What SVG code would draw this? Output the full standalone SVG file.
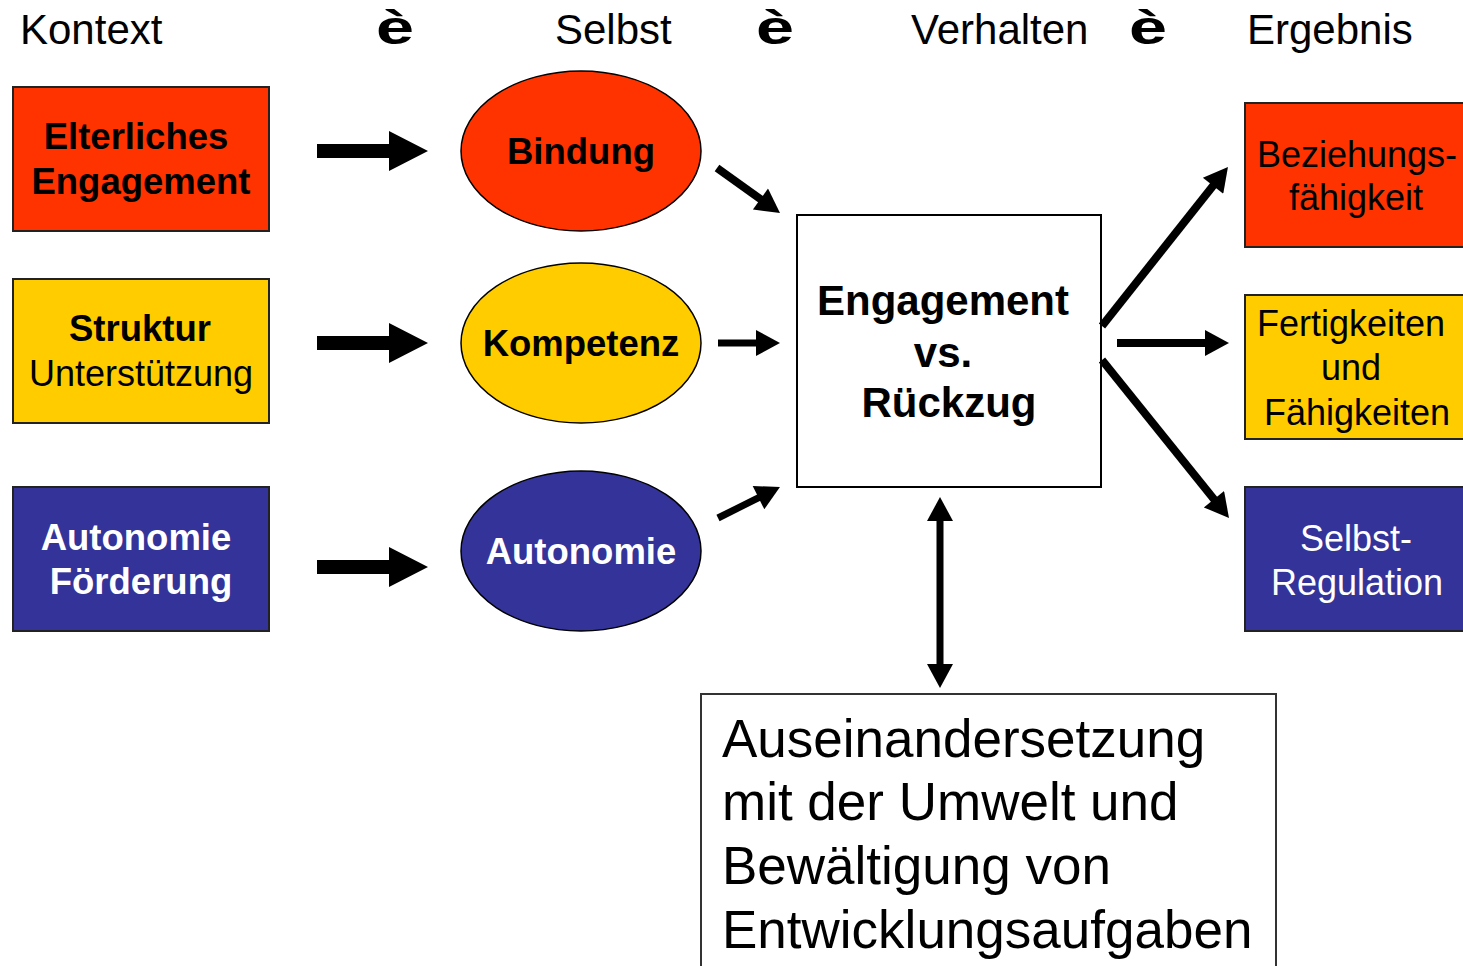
<svg xmlns="http://www.w3.org/2000/svg" width="1463" height="966" viewBox="0 0 1463 966">
<style>
text{font-family:"Liberation Sans",Arial,sans-serif;}
.hd{font-size:42px;fill:#000;}
.ar{font-size:48px;font-weight:bold;fill:#000;}
.b{font-size:36.5px;font-weight:bold;text-anchor:middle;}
.r{font-size:36px;text-anchor:middle;}
.bc{font-size:42px;font-weight:bold;text-anchor:middle;}
.big{font-size:53px;}
.red{fill:#FF3300;stroke:#222;stroke-width:2;}
.yel{fill:#FFCC00;stroke:#222;stroke-width:2;}
.blu{fill:#333399;stroke:#222;stroke-width:2;}
.ell{stroke:#000;stroke-width:1.5;}
.ln{stroke:#000;fill:none;}
.w{fill:#fff;}
.k{fill:#000;}
</style>
<defs>
<marker id="h" markerUnits="userSpaceOnUse" markerWidth="26" markerHeight="26" viewBox="0 0 24 26" refX="2" refY="13" orient="auto-start-reverse">
<path d="M0,0 L24,13 L0,26 Z" fill="#000"/>
</marker>
</defs>
<rect width="1463" height="966" fill="#fff"/>

<g id="header">
<text class="hd" x="20" y="44">Kontext</text>
<text class="ar" x="376" y="44" textLength="38" lengthAdjust="spacingAndGlyphs">è</text>
<text class="hd" x="555" y="44">Selbst</text>
<text class="ar" x="756" y="44" textLength="38" lengthAdjust="spacingAndGlyphs">è</text>
<text class="hd" x="911" y="44">Verhalten</text>
<text class="ar" x="1129" y="44" textLength="38" lengthAdjust="spacingAndGlyphs">è</text>
<text class="hd" x="1247" y="44">Ergebnis</text>
</g>

<g id="elterliches">
<rect class="red" x="13" y="87" width="256" height="144"/>
<text class="b k" x="136" y="149">Elterliches</text>
<text class="b k" x="141" y="194">Engagement</text>
</g>
<g id="struktur">
<rect class="yel" x="13" y="279" width="256" height="144"/>
<text class="b k" x="140" y="341">Struktur</text>
<text class="r k" x="141" y="386">Unterstützung</text>
</g>
<g id="autonomie-foerderung">
<rect class="blu" x="13" y="487" width="256" height="144"/>
<text class="b w" x="136" y="550">Autonomie</text>
<text class="b w" x="141" y="594">Förderung</text>
</g>

<g id="bindung">
<ellipse class="ell" cx="581" cy="151" rx="120" ry="80" fill="#FF3300"/>
<text class="b k" x="581" y="164">Bindung</text>
</g>
<g id="kompetenz">
<ellipse class="ell" cx="581" cy="343" rx="120" ry="80" fill="#FFCC00"/>
<text class="b k" x="581" y="356">Kompetenz</text>
</g>
<g id="autonomie">
<ellipse class="ell" cx="581" cy="551" rx="120" ry="80" fill="#333399"/>
<text class="b w" x="581" y="564">Autonomie</text>
</g>

<g id="engagement">
<rect x="797" y="215" width="304" height="272" fill="#fff" stroke="#000" stroke-width="2"/>
<text class="bc k" x="943" y="315">Engagement</text>
<text class="bc k" x="943" y="367">vs.</text>
<text class="bc k" x="949" y="417">Rückzug</text>
</g>

<g id="beziehung">
<rect class="red" x="1245" y="103" width="230" height="144"/>
<text class="r k" x="1357" y="167">Beziehungs-</text>
<text class="r k" x="1356" y="210">fähigkeit</text>
</g>
<g id="fertigkeiten">
<rect class="yel" x="1245" y="295" width="230" height="144"/>
<text class="r k" x="1351" y="336">Fertigkeiten</text>
<text class="r k" x="1351" y="380">und</text>
<text class="r k" x="1357" y="425">Fähigkeiten</text>
</g>
<g id="selbstregulation">
<rect class="blu" x="1245" y="487" width="230" height="144"/>
<text class="r w" x="1356" y="551">Selbst-</text>
<text class="r w" x="1357" y="595">Regulation</text>
</g>

<g id="auseinandersetzung">
<rect x="701" y="694" width="575" height="290" fill="#fff" stroke="#333" stroke-width="2"/>
<text class="big k" x="722" y="757">Auseinandersetzung</text>
<text class="big k" x="722" y="820">mit der Umwelt und</text>
<text class="big k" x="722" y="884">Bewältigung von</text>
<text class="big k" x="722" y="948">Entwicklungsaufgaben</text>
</g>

<g id="connectors">
<polygon class="k" points="317,144 389,144 389,131 428,151 389,171 389,158 317,158"/>
<polygon class="k" points="317,336 389,336 389,323 428,343 389,363 389,350 317,350"/>
<polygon class="k" points="317,560 389,560 389,547 428,567 389,587 389,574 317,574"/>
<line class="ln" x1="717" y1="168" x2="762.1" y2="200.2" stroke-width="8" marker-end="url(#h)"/>
<line class="ln" x1="718" y1="343" x2="758" y2="343" stroke-width="7" marker-end="url(#h)"/>
<line class="ln" x1="718" y1="518" x2="760.3" y2="496.8" stroke-width="7" marker-end="url(#h)"/>
<line class="ln" x1="1102" y1="326" x2="1214.3" y2="184.2" stroke-width="8" marker-end="url(#h)"/>
<line class="ln" x1="1117" y1="343" x2="1207" y2="343" stroke-width="8" marker-end="url(#h)"/>
<line class="ln" x1="1102" y1="360" x2="1215.2" y2="500.8" stroke-width="8" marker-end="url(#h)"/>
<line class="ln" x1="940" y1="519" x2="940" y2="666" stroke-width="7" marker-start="url(#h)" marker-end="url(#h)"/>
</g>
</svg>
